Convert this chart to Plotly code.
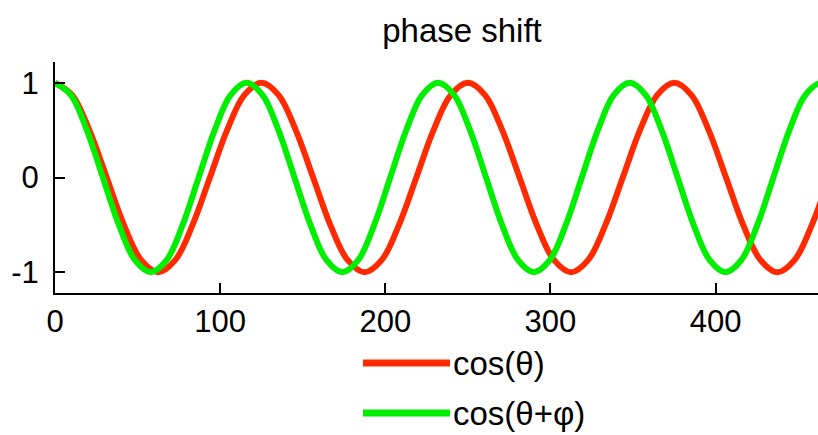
import plotly.graph_objects as go

# Values (12 readings per period)
red_x = [0, 10.4, 20.8, 31.3, 41.7, 52.1, 62.5, 72.9, 83.3, 93.8, 104.2, 114.6,
         125, 135.4, 145.8, 156.3, 166.7, 177.1, 187.5, 197.9, 208.3, 218.8, 229.2, 239.6,
         250, 260.4, 270.8, 281.3, 291.7, 302.1, 312.5, 322.9, 333.3, 343.8, 354.2, 364.6,
         375, 385.4, 395.8, 406.3, 416.7, 427.1, 437.5, 447.9, 458.3, 468.8]
red_y = [1, 0.87, 0.5, 0, -0.5, -0.87, -1, -0.87, -0.5, 0, 0.5, 0.87,
         1, 0.87, 0.5, 0, -0.5, -0.87, -1, -0.87, -0.5, 0, 0.5, 0.87,
         1, 0.87, 0.5, 0, -0.5, -0.87, -1, -0.87, -0.5, 0, 0.5, 0.87,
         1, 0.87, 0.5, 0, -0.5, -0.87, -1, -0.87, -0.5, 0]

green_x = [0, 9.7, 19.3, 29, 38.7, 48.3, 58, 67.7, 77.3, 87, 96.7, 106.3,
           116, 125.7, 135.3, 145, 154.7, 164.3, 174, 183.7, 193.3, 203, 212.7, 222.3,
           232, 241.7, 251.3, 261, 270.7, 280.3, 290, 299.7, 309.3, 319, 328.7, 338.3,
           348, 357.7, 367.3, 377, 386.7, 396.3, 406, 415.7, 425.3, 435, 444.7, 454.3,
           464, 473.7]
green_y = [1, 0.87, 0.5, 0, -0.5, -0.87, -1, -0.87, -0.5, 0, 0.5, 0.87,
           1, 0.87, 0.5, 0, -0.5, -0.87, -1, -0.87, -0.5, 0, 0.5, 0.87,
           1, 0.87, 0.5, 0, -0.5, -0.87, -1, -0.87, -0.5, 0, 0.5, 0.87,
           1, 0.87, 0.5, 0, -0.5, -0.87, -1, -0.87, -0.5, 0, 0.5, 0.87,
           1, 0.87]

x_ticks = [0, 100, 200, 300, 400]
y_ticks = [-1, 0, 1]
series_names = ["cos(θ)", "cos(θ+φ)"]
title_text = "phase shift"

RED = "#ff2a00"
GREEN = "#00ee00"
FONT = "Liberation Sans, Arial, sans-serif"

fig = go.Figure()
fig.add_trace(go.Scatter(x=red_x, y=red_y, mode="lines", name=series_names[0],
                         line=dict(color=RED, width=6, shape="spline", smoothing=1.0)))
fig.add_trace(go.Scatter(x=green_x, y=green_y, mode="lines", name=series_names[1],
                         line=dict(color=GREEN, width=6, shape="spline", smoothing=1.0)))

axis_common = dict(showline=True, linecolor="black", linewidth=2, ticks="inside",
                   ticklen=10, tickwidth=2, tickcolor="black", showgrid=False,
                   zeroline=False, tickfont=dict(family=FONT, size=31, color="black"))

fig.update_xaxes(range=[0, 462], tickvals=x_ticks, ticktext=[str(v) for v in x_ticks],
                 ticklabelstandoff=0, **axis_common)
fig.update_yaxes(range=[-1.22, 1.22], tickvals=y_ticks, ticktext=[str(v) for v in y_ticks],
                 ticklabelstandoff=8, **axis_common)

# Manual legend below the plot
W, H = 818, 435
L, R, T, B = 55, 0, 62, 142
pw, ph = W - L - R, H - T - B


def px_x(p):
    return (p - L) / pw


def px_y(p):
    return (H - B - p) / ph


legend_rows = [(363, RED, series_names[0]), (413, GREEN, series_names[1])]
for ypx, col, name in legend_rows:
    fig.add_shape(type="line", xref="paper", yref="paper",
                  x0=px_x(363), x1=px_x(450), y0=px_y(ypx), y1=px_y(ypx),
                  line=dict(color=col, width=7))
    fig.add_annotation(xref="paper", yref="paper", x=px_x(451), y=px_y(ypx),
                       text=name, showarrow=False, xanchor="left", yanchor="middle",
                       font=dict(family=FONT, size=33, color="black"))

fig.update_layout(
    width=W, height=H,
    margin=dict(l=L, r=R, t=T, b=B),
    paper_bgcolor="white", plot_bgcolor="white",
    showlegend=False,
    title=dict(text=title_text, x=462 / W, xref="container", xanchor="center",
               y=1 - 30 / H, yref="container", yanchor="middle",
               font=dict(family=FONT, size=33, color="black")),
)

fig.write_html("out.html")
